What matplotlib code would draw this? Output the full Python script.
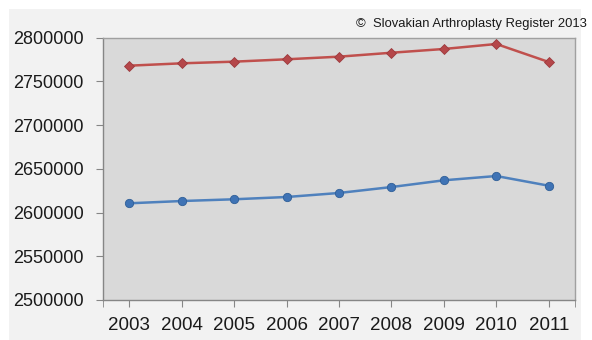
import numpy as np
import matplotlib.pyplot as plt
from matplotlib.patches import Rectangle

plt.rcParams['font.family'] = ['Liberation Sans', 'DejaVu Sans']

years = [2003, 2004, 2005, 2006, 2007, 2008, 2009, 2010, 2011]
upper = [2768000, 2770700, 2772600, 2775300, 2778300, 2782800, 2787100, 2792800, 2772200]
lower = [2610600, 2613200, 2615200, 2617800, 2622400, 2629200, 2636900, 2641800, 2630700]
y_ticks = [2500000, 2550000, 2600000, 2650000, 2700000, 2750000, 2800000]
note = '\u00a9  Slovakian Arthroplasty Register 2013'

W, H = 592, 340
fig = plt.figure(figsize=(W / 100, H / 100), dpi=100, facecolor='white')

# light panel behind the chart, leaving a thin white margin
fig.add_artist(Rectangle((9 / W, 0), (581 - 9) / W, (H - 9) / H,
                         transform=fig.transFigure, facecolor='#f2f2f2',
                         edgecolor='none', zorder=-5))

ax = fig.add_axes([103 / W, (H - 300) / H, (575 - 103) / W, (300 - 37.7) / H])
ax.set_facecolor('#d9d9d9')

x = np.arange(len(years))
ax.plot(x, upper, color='#c0504d', lw=1.8, marker='D', ms=5,
        mfc='#b5474a', mec='#9c3a3d', mew=0.6, zorder=3)
ax.plot(x, lower, color='#4f81bd', lw=1.8, marker='o', ms=6,
        mfc='#3f73b5', mec='#2f5f98', mew=0.6, zorder=3)

ax.set_xlim(-0.5, len(years) - 0.5)
ax.set_ylim(y_ticks[0], y_ticks[-1])
ax.set_yticks(y_ticks)
ax.set_yticklabels([str(v) for v in y_ticks])
ax.set_xticks(x)
ax.set_xticklabels([str(y) for y in years])
ax.set_xticks([-0.5, len(years) - 0.5], minor=True)

for side in ['top', 'right']:
    ax.spines[side].set_color('#a0a0a0')
for side in ['left', 'bottom']:
    ax.spines[side].set_color('#868686')
for s in ax.spines.values():
    s.set_linewidth(1)

ax.tick_params(axis='y', length=5, color='#868686', pad=9,
               labelsize=13, labelcolor='#1a1a1a')
ax.tick_params(axis='x', which='both', length=5, color='#868686', pad=7,
               labelsize=13.5, labelcolor='#1a1a1a')

fig.text(587 / W, 1 - 24 / H, note, ha='right', va='center',
         fontsize=9.4, color='#1a1a1a')

fig.savefig('out.png', dpi=100, facecolor=fig.get_facecolor())
